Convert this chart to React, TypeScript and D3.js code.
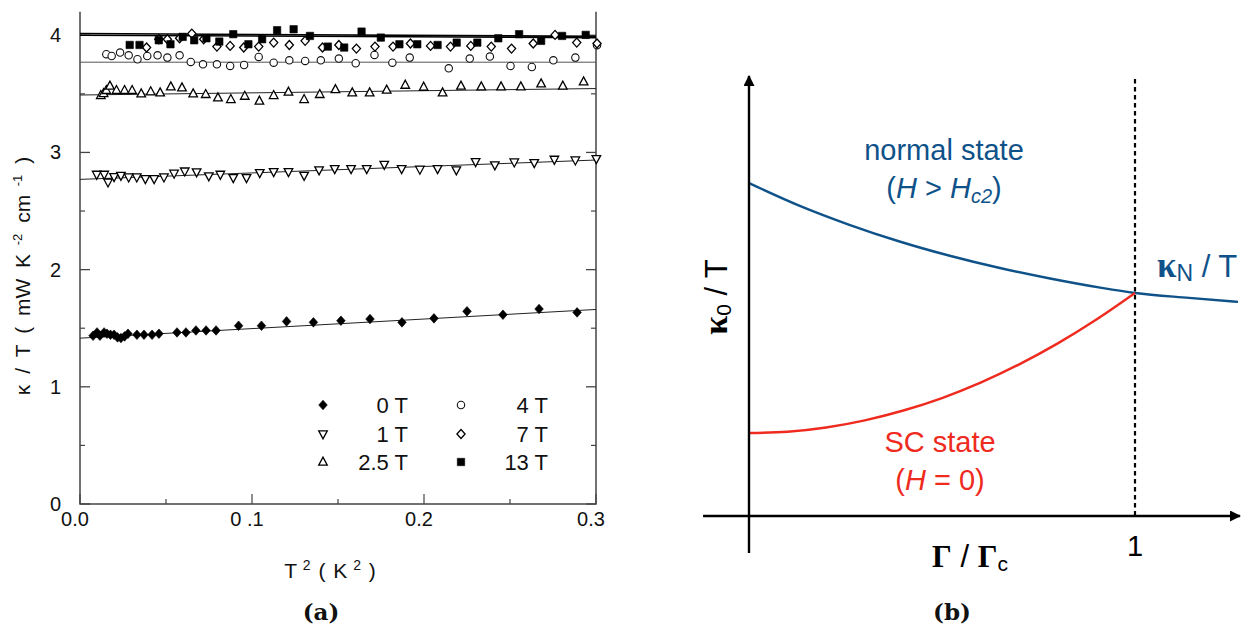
import React from "react";
import * as d3 from "d3";

// ---------- Panel (a) data ----------
const T2_0T = [0.0076,0.0099,0.0116,0.014,0.0157,0.0177,0.0198,0.0218,0.0238,0.0259,0.0279,0.0331,0.0372,0.0419,0.0459,0.0564,0.0616,0.0674,0.0733,0.0791,0.0922,0.1055,0.1201,0.1357,0.1517,0.1686,0.1872,0.2058,0.225,0.2459,0.2669,0.289];
const K_0T = [1.436,1.464,1.436,1.464,1.453,1.444,1.444,1.422,1.416,1.430,1.453,1.444,1.444,1.444,1.453,1.464,1.464,1.481,1.481,1.481,1.521,1.521,1.558,1.550,1.564,1.578,1.550,1.584,1.644,1.615,1.664,1.635];

const T2_1T = [0.0097,0.0141,0.0163,0.0198,0.0238,0.0283,0.033,0.038,0.0431,0.0488,0.0547,0.0609,0.0678,0.0749,0.0816,0.0891,0.0968,0.1045,0.1126,0.1212,0.1303,0.139,0.1481,0.1576,0.1667,0.1769,0.187,0.1976,0.2079,0.2188,0.23,0.2412,0.2525,0.2641,0.2758,0.288,0.3002];
const K_1T = [2.812,2.812,2.746,2.792,2.803,2.789,2.789,2.775,2.775,2.789,2.821,2.840,2.832,2.798,2.812,2.783,2.783,2.826,2.835,2.835,2.803,2.849,2.860,2.860,2.860,2.897,2.860,2.855,2.860,2.849,2.920,2.892,2.917,2.912,2.940,2.934,2.946];

const T2_25T = [0.0121,0.0137,0.0153,0.0174,0.0212,0.0259,0.0303,0.0356,0.0411,0.0466,0.0528,0.0593,0.0658,0.0731,0.0802,0.0877,0.0958,0.1043,0.1126,0.1212,0.1303,0.1394,0.1485,0.1583,0.1684,0.1783,0.1891,0.1998,0.2108,0.2215,0.2333,0.2448,0.2563,0.2681,0.2807,0.2928];
const K_25T = [3.487,3.504,3.530,3.567,3.530,3.530,3.530,3.501,3.519,3.510,3.561,3.553,3.501,3.496,3.467,3.453,3.481,3.439,3.487,3.516,3.453,3.496,3.538,3.510,3.510,3.533,3.575,3.558,3.510,3.567,3.561,3.561,3.561,3.587,3.567,3.604];

const T2_4T = [0.0153,0.0184,0.0233,0.0283,0.0334,0.0391,0.0451,0.0508,0.0579,0.0644,0.0715,0.0796,0.0873,0.0954,0.1039,0.1126,0.1217,0.1309,0.14,0.1505,0.1603,0.1712,0.1816,0.1917,0.2144,0.2266,0.2383,0.2503,0.2627,0.2752,0.288,0.3006];
const K_4T = [3.838,3.823,3.852,3.829,3.795,3.823,3.829,3.809,3.829,3.772,3.752,3.752,3.738,3.746,3.815,3.766,3.786,3.781,3.786,3.801,3.761,3.832,3.766,3.809,3.718,3.801,3.818,3.738,3.729,3.786,3.809,3.915];

const T2_7T = [0.0387,0.0458,0.0508,0.0579,0.065,0.0719,0.0796,0.0873,0.0952,0.1039,0.1126,0.1217,0.1309,0.141,0.1505,0.1607,0.1715,0.182,0.1921,0.2038,0.2154,0.2272,0.2391,0.2509,0.2635,0.2762,0.2888,0.3006];
const K_7T = [3.895,3.966,3.966,3.974,4.014,3.966,3.903,3.909,3.895,3.903,3.937,3.917,3.952,3.895,3.917,3.886,3.903,3.903,3.929,3.909,3.903,3.909,3.903,3.886,3.929,4.003,3.937,3.929];

const T2_13T = [0.0289,0.0346,0.0458,0.0526,0.0597,0.0664,0.0735,0.081,0.0891,0.0979,0.1059,0.1146,0.1242,0.1337,0.1441,0.1536,0.1637,0.1749,0.1857,0.1961,0.2079,0.219,0.231,0.2432,0.2553,0.2681,0.2803,0.294];
const K_13T = [3.917,3.917,3.957,3.923,3.986,3.957,3.974,3.946,4.009,3.923,3.966,4.043,4.051,3.994,3.903,3.895,4.031,3.980,3.923,3.923,3.917,3.937,3.937,3.974,4.009,3.952,3.994,4.003];

// linear fits: [T2, kappa/T] end points
const FIT_T2 = [0, 0.3];
const FIT_0T = [1.415, 1.66];
const FIT_1T = [2.77, 2.935];
const FIT_25T = [3.49, 3.545];
const FIT_4T = [3.77, 3.77];
const FIT_7T = [4.0, 3.98];
const FIT_13T = [4.015, 3.99];

const X_TICKS_MAJOR = [0, 0.1, 0.2, 0.3];
const X_TICK_LABELS = ["0.0", "0 .1", "0.2", "0.3"];
const X_TICKS_MINOR = [0.05, 0.15, 0.25];
const Y_TICKS_MAJOR = [0, 1, 2, 3, 4];
const Y_TICKS_MINOR = [0.5, 1.5, 2.5, 3.5];

const LEGEND_LABELS = ["0 T", "1 T", "2.5 T", "4 T", "7 T", "13 T"];

// ---------- Panel (b) data ----------
const G_N = [0, 0.13, 0.26, 0.39, 0.52, 0.65, 0.78, 0.91, 1.0, 1.14, 1.267];
const K_N = [1.493, 1.392, 1.306, 1.231, 1.167, 1.112, 1.065, 1.024, 1.0, 0.978, 0.96];
const G_SC = [0, 0.1, 0.2, 0.3, 0.4, 0.5, 0.6, 0.7, 0.8, 0.9, 1.0];
const K_SC = [0.372, 0.378, 0.397, 0.429, 0.473, 0.529, 0.598, 0.68, 0.774, 0.881, 1.0];
const B_X_EXTENT = [-0.119, 1.277];
const B_Y_EXTENT = [-0.166, 1.982];

const SANS = "'Liberation Sans', Arial, Helvetica, sans-serif";
const SERIF = "'Liberation Serif', 'Times New Roman', serif";
const CAPTION_SERIF = "'DejaVu Serif', 'Liberation Serif', serif";
const BLUE = "#0f5289";
const RED = "#ee2b1e";

type Shape = "fdiamond" | "tdown" | "tup" | "circle" | "odiamond" | "fsquare";

function markerPath(shape: Shape, cx: number, cy: number): string {
  switch (shape) {
    case "fdiamond": {
      const r = 4.8, w = 4.3;
      return `M${cx},${cy - r}L${cx + w},${cy}L${cx},${cy + r}L${cx - w},${cy}Z`;
    }
    case "odiamond": {
      const r = 4.5, w = 4.1;
      return `M${cx},${cy - r}L${cx + w},${cy}L${cx},${cy + r}L${cx - w},${cy}Z`;
    }
    case "tdown": {
      const w = 4.3, h = 3.2;
      return `M${cx - w},${cy - h}L${cx + w},${cy - h}L${cx},${cy + h + 1.6}Z`;
    }
    case "tup": {
      const w = 4.3, h = 3.2;
      return `M${cx - w},${cy + h}L${cx + w},${cy + h}L${cx},${cy - h - 1.6}Z`;
    }
    case "fsquare": {
      const s = 3.7;
      return `M${cx - s},${cy - s}h${2 * s}v${2 * s}h${-2 * s}Z`;
    }
    default:
      return "";
  }
}

function Marker({ shape, cx, cy }: { shape: Shape; cx: number; cy: number }) {
  if (shape === "circle") {
    return <circle cx={cx} cy={cy} r={3.7} fill="white" stroke="#111" strokeWidth={1.1} />;
  }
  const filled = shape === "fdiamond" || shape === "fsquare";
  return (
    <path
      d={markerPath(shape, cx, cy)}
      fill={filled ? "#000" : "white"}
      stroke="#000"
      strokeWidth={filled ? 0.6 : 1.3}
      strokeLinejoin="miter"
    />
  );
}

export default function App() {
  const xA = d3.scaleLinear().domain([0, 0.3]).range([80, 596]);
  const yA = d3.scaleLinear().domain([0, 4.2]).range([504, 11.8]);

  const series: { t: number[]; k: number[]; shape: Shape }[] = [
    { t: T2_4T, k: K_4T, shape: "circle" },
    { t: T2_7T, k: K_7T, shape: "odiamond" },
    { t: T2_13T, k: K_13T, shape: "fsquare" },
    { t: T2_25T, k: K_25T, shape: "tup" },
    { t: T2_1T, k: K_1T, shape: "tdown" },
    { t: T2_0T, k: K_0T, shape: "fdiamond" },
  ];

  const fits: { k: number[]; color: string; w: number }[] = [
    { k: FIT_0T, color: "#222", w: 1 },
    { k: FIT_1T, color: "#222", w: 1 },
    { k: FIT_25T, color: "#222", w: 1 },
    { k: FIT_4T, color: "#555", w: 1 },
    { k: FIT_7T, color: "#000", w: 1.6 },
    { k: FIT_13T, color: "#000", w: 1.6 },
  ];

  const lineA = d3
    .line<[number, number]>()
    .x((d) => xA(d[0]))
    .y((d) => yA(d[1]));

  const legendShapes: Shape[] = ["fdiamond", "tdown", "tup", "circle", "odiamond", "fsquare"];
  const legendRows = [405, 434, 462];
  const legendMarkerX = [323, 461];
  const legendTextX = [408, 548];

  const x0 = xA(0), x1 = xA(0.3), y0 = yA(0), yTop = yA(4.2);

  const xB = d3.scaleLinear().domain([0, 1]).range([749, 1135]);
  const yB = d3.scaleLinear().domain([0, 1]).range([516, 293]);
  const lineB = d3
    .line<[number, number]>()
    .x((d) => xB(d[0]))
    .y((d) => yB(d[1]))
    .curve(d3.curveMonotoneX);
  const normalPts = G_N.map((g, i) => [g, K_N[i]] as [number, number]);
  const scPts = G_SC.map((g, i) => [g, K_SC[i]] as [number, number]);

  const axX0 = xB(B_X_EXTENT[0]);
  const axX1 = xB(B_X_EXTENT[1]);
  const axY0 = yB(B_Y_EXTENT[0]);
  const axY1 = yB(B_Y_EXTENT[1]);
  const ox = xB(0), oy = yB(0);

  return (
    <svg
      width={1259}
      height={636}
      style={{ position: "absolute", left: 0, top: 0, background: "white" }}
      fontFamily={SANS}
    >
      <rect x={0} y={0} width={1259} height={636} fill="white" />

      {/* ---------- Panel (a) ---------- */}
      <path
        d={`M${x0},${yTop}V${y0}H${x1}V${yTop}`}
        fill="none"
        stroke="#444"
        strokeWidth={1.5}
      />
      {X_TICKS_MAJOR.map((t) => (
        <line key={"xm" + t} x1={xA(t)} x2={xA(t)} y1={y0} y2={y0 - 10} stroke="#444" strokeWidth={1.2} />
      ))}
      {X_TICKS_MINOR.map((t) => (
        <line key={"xn" + t} x1={xA(t)} x2={xA(t)} y1={y0} y2={y0 - 5} stroke="#444" strokeWidth={1.2} />
      ))}
      {X_TICKS_MAJOR.map((t, i) => (
        <text key={"xl" + t} x={xA(t) - 5} y={526} fontSize={20} textAnchor="middle" fill="#111">
          {X_TICK_LABELS[i]}
        </text>
      ))}
      {Y_TICKS_MAJOR.map((v) => (
        <g key={"ym" + v}>
          <line x1={x0} x2={x0 + 10} y1={yA(v)} y2={yA(v)} stroke="#444" strokeWidth={1.3} />
          <line x1={x1} x2={x1 - 10} y1={yA(v)} y2={yA(v)} stroke="#444" strokeWidth={1.3} />
          <text x={61} y={yA(v) + 7} fontSize={20} textAnchor="end" fill="#111">
            {v}
          </text>
        </g>
      ))}
      {Y_TICKS_MINOR.map((v) => (
        <g key={"yn" + v}>
          <line x1={x0} x2={x0 + 5} y1={yA(v)} y2={yA(v)} stroke="#444" strokeWidth={1.2} />
          <line x1={x1} x2={x1 - 5} y1={yA(v)} y2={yA(v)} stroke="#444" strokeWidth={1.2} />
        </g>
      ))}

      {fits.map((f, i) => (
        <path
          key={"fit" + i}
          d={lineA(FIT_T2.map((t, j) => [t, f.k[j]] as [number, number])) || ""}
          fill="none"
          stroke={f.color}
          strokeWidth={f.w}
        />
      ))}

      {series.map((s, si) =>
        s.t.map((t, i) => (
          <Marker key={`m${si}-${i}`} shape={s.shape} cx={xA(t)} cy={yA(s.k[i])} />
        ))
      )}

      {legendShapes.map((shape, i) => {
        const col = i < 3 ? 0 : 1;
        const row = i % 3;
        return (
          <g key={"lg" + i}>
            <Marker shape={shape} cx={legendMarkerX[col]} cy={legendRows[row]} />
            <text x={legendTextX[col]} y={legendRows[row] + 8} fontSize={22} textAnchor="end" fill="#111">
              {LEGEND_LABELS[i]}
            </text>
          </g>
        );
      })}

      <text transform="translate(30,276) rotate(-90)" fontSize={21} wordSpacing={5} textAnchor="middle" fill="#111">
        κ / T ( mW K
        <tspan dy={-8} fontSize={13}> -2</tspan>
        <tspan dy={8}> cm</tspan>
        <tspan dy={-8} fontSize={13}> -1</tspan>
        <tspan dy={8}> )</tspan>
      </text>
      <text x={330} y={578} fontSize={21} wordSpacing={2} textAnchor="middle" fill="#111">
        T
        <tspan dy={-8} fontSize={14}> 2</tspan>
        <tspan dy={8}> ( K</tspan>
        <tspan dy={-8} fontSize={14}> 2</tspan>
        <tspan dy={8}> )</tspan>
      </text>
      <text x={321} y={620} fontSize={23} fontWeight="bold" fontFamily={CAPTION_SERIF} textAnchor="middle" fill="#111">
        (a)
      </text>

      {/* ---------- Panel (b) ---------- */}
      <defs>
        <marker id="arrowHead" viewBox="0 0 10 10" refX={9} refY={5} markerWidth={11} markerHeight={11} markerUnits="userSpaceOnUse" orient="auto">
          <path d="M0,0L10,5L0,10Z" fill="#000" />
        </marker>
      </defs>
      <line x1={xB(1)} x2={xB(1)} y1={axY1 + 5} y2={oy} stroke="#000" strokeWidth={2.2} strokeDasharray="4.5,3.5" />
      <path d={lineB(normalPts) || ""} fill="none" stroke={BLUE} strokeWidth={2.4} />
      <path d={lineB(scPts) || ""} fill="none" stroke={RED} strokeWidth={2.4} />
      <line x1={ox} x2={ox} y1={axY0} y2={axY1 + 2} stroke="#000" strokeWidth={2.4} markerEnd="url(#arrowHead)" />
      <line x1={axX0} x2={axX1 - 2} y1={oy} y2={oy} stroke="#000" strokeWidth={2.4} markerEnd="url(#arrowHead)" />

      <text x={944} y={160} fontSize={29} textAnchor="middle" fill={BLUE}>
        normal state
      </text>
      <text x={944} y={198} fontSize={29} textAnchor="middle" fill={BLUE}>
        (<tspan fontStyle="italic">H</tspan> &gt; <tspan fontStyle="italic">H</tspan>
        <tspan fontStyle="italic" fontSize={20} dy={5}>c2</tspan>
        <tspan dy={-5}>)</tspan>
      </text>
      <text x={1157} y={277} fontSize={31} fill={BLUE}>
        <tspan fontFamily={SERIF} fontWeight="bold" fontSize={35}>κ</tspan>
        <tspan fontSize={23} dy={4}>N</tspan>
        <tspan dy={-4}> / T</tspan>
      </text>
      <text x={940} y={452} fontSize={29} textAnchor="middle" fill={RED}>
        SC state
      </text>
      <text x={940} y={490} fontSize={29} textAnchor="middle" fill={RED}>
        (<tspan fontStyle="italic">H</tspan> = 0)
      </text>
      <text transform="translate(727,297) rotate(-90)" fontSize={31} textAnchor="middle" fill="#000">
        <tspan fontFamily={SERIF} fontWeight="bold" fontSize={34}>κ</tspan>
        <tspan fontSize={21} dy={4}>0</tspan>
        <tspan dy={-4}> / T</tspan>
      </text>
      <text x={970} y={567} fontSize={31} textAnchor="middle" fill="#000">
        <tspan fontFamily={SERIF} fontWeight="bold">Γ</tspan>
        <tspan> / </tspan>
        <tspan fontFamily={SERIF} fontWeight="bold">Γ</tspan>
        <tspan fontSize={21} dy={4}>c</tspan>
      </text>
      <text x={xB(1)} y={556} fontSize={29} textAnchor="middle" fill="#000">
        1
      </text>
      <text x={952} y={620} fontSize={23} fontWeight="bold" fontFamily={CAPTION_SERIF} textAnchor="middle" fill="#111">
        (b)
      </text>
    </svg>
  );
}
